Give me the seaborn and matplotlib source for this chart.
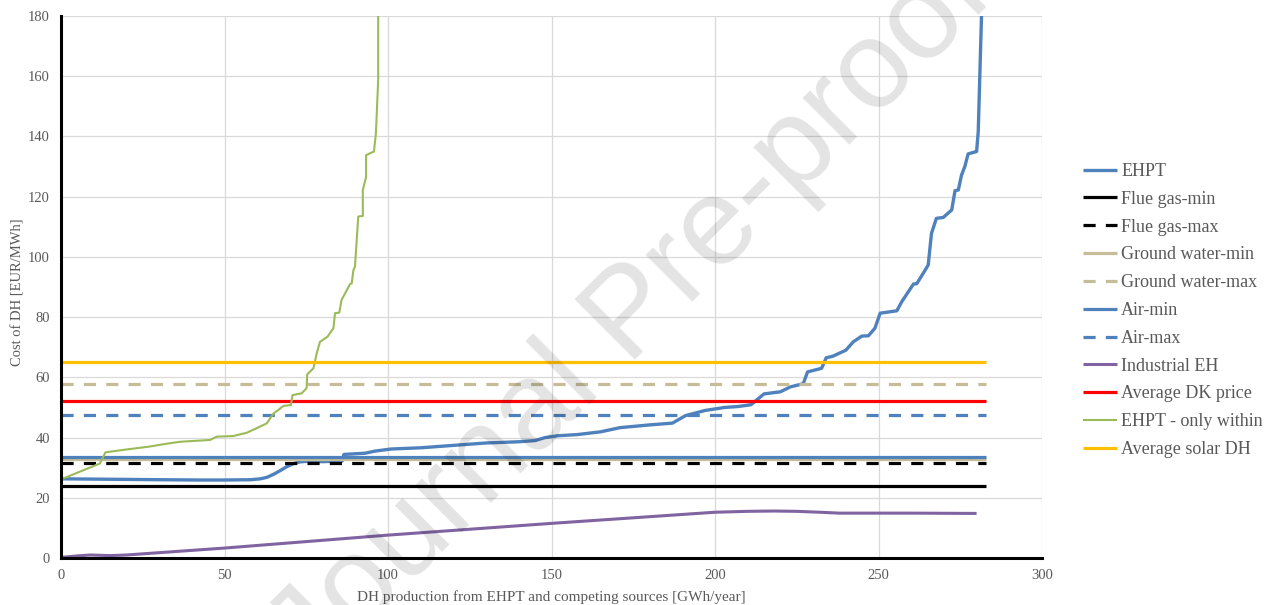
import matplotlib
matplotlib.use("Agg")
import matplotlib.pyplot as plt
import seaborn as sns
import pandas as pd

# EHPT cost curve (cumulative production vs. cost)
ehpt_x = [0, 10, 20, 30, 42, 50, 58, 61, 63, 65, 67, 69, 71, 73, 75, 80, 86.0,
          86.5, 93, 96, 101, 110, 120, 130, 140, 145, 148, 152, 158, 165, 171,
          180, 187, 191, 197, 203, 207, 211, 215, 220, 223, 227, 228.3, 232.6,
          234, 236, 240, 242.3, 244.9, 246.9, 248.9, 250.5, 255.6, 257.1, 260.7,
          261.7, 263.7, 265.2, 266.2, 267.7, 269.8, 272.4, 273.4, 274.4, 275.4,
          276.4, 277.4, 280, 280.5, 281.5, 281.7]
ehpt_y = [26.3, 26.2, 26.1, 26.0, 25.9, 25.9, 26.0, 26.3, 26.8, 27.8, 29.0, 30.3,
          31.3, 31.9, 32.1, 32.0, 32.2,
          34.4, 34.8, 35.5, 36.2, 36.6, 37.4, 38.2, 38.6, 39.0, 40.0, 40.6, 41.0,
          41.9, 43.3, 44.2, 44.8, 47.3, 49.0, 50.0, 50.3, 50.9, 54.5, 55.2, 56.8,
          57.9, 61.8, 63.0, 66.5, 67.0, 69.0, 71.8, 73.7, 73.8, 76.3, 81.3, 82.1,
          85.1, 91.0, 91.1, 94.6, 97.3, 107.8, 112.8, 113.1, 115.6, 122.0, 122.2,
          127.2, 130.0, 134.2, 135.0, 141.6, 180.0, 185.0]

# EHPT limited to production within the area
within_x = [0, 11.9, 13.6, 19, 27, 32, 36.4, 45.6, 47.6, 52.7, 56.8, 59.8, 62.9,
            65, 66.5, 68, 70.3, 70.8, 73.6, 75.1, 75.3, 77.2, 78.2, 79.2, 81.5,
            83.3, 83.8, 85.1, 85.8, 88.4, 88.9, 89.4, 89.9, 90.9, 92.3, 92.3,
            93.3, 93.3, 95.7, 96.3, 97, 97]
within_y = [26.1, 31.4, 35.1, 35.9, 37.0, 37.9, 38.6, 39.2, 40.3, 40.5, 41.6,
            43.1, 44.7, 48.0, 49.2, 50.5, 50.8, 54.1, 54.7, 56.4, 61.0, 63.0,
            68.0, 71.8, 73.5, 76.3, 81.3, 81.5, 85.7, 91.0, 91.2, 95.5, 96.8,
            113.4, 113.6, 122.2, 126.6, 133.8, 135.0, 141.0, 158.8, 185.0]

# Industrial excess heat
ind_x = [0, 5, 9, 15, 20, 50, 100, 150, 200, 210, 218, 225, 232, 238, 260, 280]
ind_y = [0.2, 0.7, 1.0, 0.8, 1.0, 3.3, 7.6, 11.5, 15.2, 15.5, 15.6, 15.5, 15.2,
         14.9, 14.9, 14.8]

# Constant reference costs over the production range
level_x = [0, 283]
flue_gas_min = 23.8
flue_gas_max = 31.6
ground_water_min = 32.8
ground_water_max = 57.8
air_min = 33.6
air_max = 47.5
dk_price = 52.1
solar_dh = 65.0

x_ticks = [0, 50, 100, 150, 200, 250, 300]
y_ticks = [0, 20, 40, 60, 80, 100, 120, 140, 160, 180]

sns.set_style("white")
plt.rcParams["font.family"] = ["Liberation Serif", "DejaVu Serif"]

fig = plt.figure(figsize=(12.73, 6.05), dpi=100)
ax = fig.add_axes([61 / 1273, 1 - 558 / 605, (1042 - 61) / 1273, (558 - 16) / 605])

BLUE = "#4f81bd"
TAN = "#c4bd97"
dash = (3.8, 3.2)
LW = 2.3


def curve(x, y, label, color, lw=LW, dashes=None):
    df = pd.DataFrame({"x": x, "y": y})
    sns.lineplot(data=df, x="x", y="y", ax=ax, sort=False, estimator=None,
                 color=color, lw=lw, label=label,
                 solid_capstyle="butt", dash_capstyle="butt")
    line = ax.get_lines()[-1]
    if dashes is not None:
        line.set_dashes(dashes)


def level(value, label, color, dashes=None):
    curve(level_x, [value, value], label, color, dashes=dashes)


curve(ehpt_x, ehpt_y, "EHPT", BLUE, lw=2.4)
level(flue_gas_min, "Flue gas-min", "black")
level(flue_gas_max, "Flue gas-max", "black", dashes=dash)
level(ground_water_min, "Ground water-min", TAN)
level(ground_water_max, "Ground water-max", TAN, dashes=dash)
level(air_min, "Air-min", BLUE)
level(air_max, "Air-max", BLUE, dashes=dash)
curve(ind_x, ind_y, "Industrial EH", "#8064a2", lw=2.2)
level(dk_price, "Average DK price", "#ff0000")
curve(within_x, within_y, "EHPT - only within", "#9bbb59", lw=1.5)
level(solar_dh, "Average solar DH", "#ffc000")

ax.set_xlim(0, 300)
ax.set_ylim(0, 180)
ax.set_xticks(x_ticks)
ax.set_yticks(y_ticks)
ax.grid(True, color="#d9d9d9", lw=0.9)
ax.set_axisbelow(True)
for side in ["top", "right"]:
    ax.spines[side].set_visible(False)
for side in ["left", "bottom"]:
    ax.spines[side].set_color("black")
    ax.spines[side].set_linewidth(2.2)
    ax.spines[side].set_zorder(5)
ax.tick_params(axis="both", length=0, pad=8, labelsize=10.5, labelcolor="#595959")

ax.set_xlabel("DH production from EHPT and competing sources [GWh/year]",
              fontsize=11, color="#595959", labelpad=6)
ax.set_ylabel("Cost of DH [EUR/MWh]", fontsize=10.5, color="#595959")
ax.yaxis.set_label_coords((24 - 61) / 981, (558 - 292) / 542)

handles, labels = ax.get_legend_handles_labels()
leg = ax.legend(handles, labels, loc="center left",
                bbox_to_anchor=(1083 / 1273, 1 - 310.5 / 605),
                bbox_transform=fig.transFigure, frameon=False,
                fontsize=13, labelspacing=0.6, handlelength=1.9,
                handletextpad=0.22, borderpad=0, borderaxespad=0)
for t in leg.get_texts():
    t.set_color("#595959")

fig.text(655 / 1273, 1 - 339 / 605, "Journal Pre-proof", rotation=45,
         rotation_mode="anchor", ha="center", va="baseline", fontsize=90,
         family="Liberation Sans", color="black", alpha=0.11, zorder=10)

fig.savefig("out.png", dpi=100)
